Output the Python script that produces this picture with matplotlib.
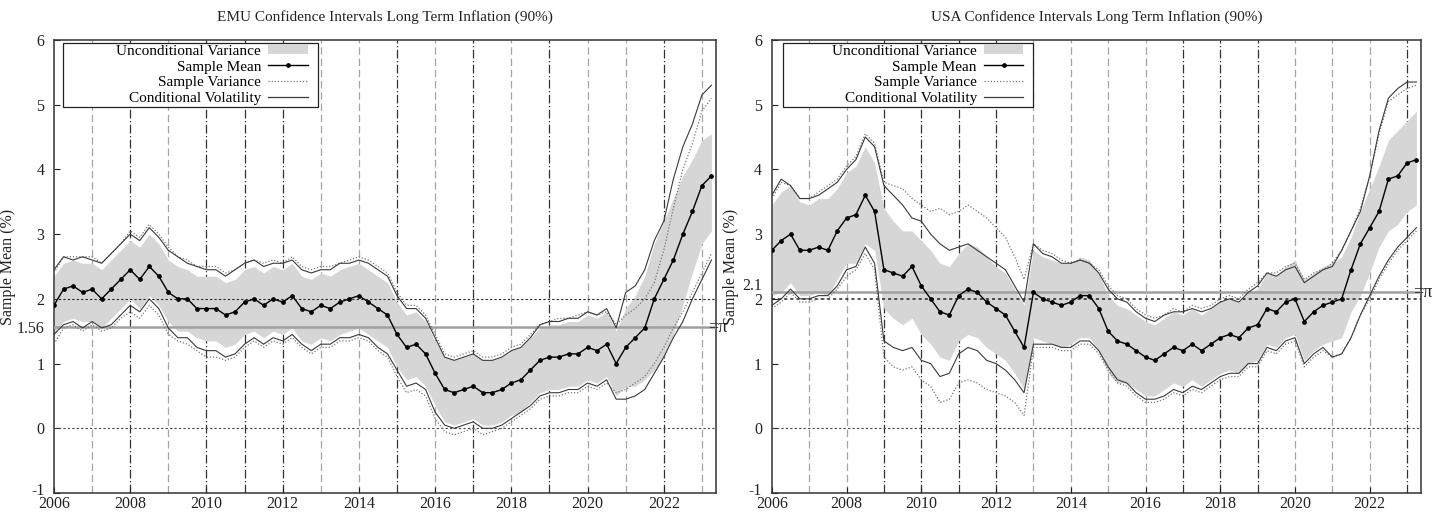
import numpy as np
import matplotlib
matplotlib.use("Agg")
import matplotlib.pyplot as plt
import matplotlib.transforms as mtransforms
from matplotlib.lines import Line2D
from matplotlib.patches import Patch, Rectangle

plt.rcParams['font.family'] = ['Liberation Serif', 'DejaVu Serif']
plt.rcParams['axes.unicode_minus'] = False

# quarterly grid 2006Q1 .. 2023Q2
t = 2006 + np.arange(70) / 4

# ---------------- EMU ----------------
emu_mean = [1.90, 2.15, 2.20, 2.10, 2.15, 2.00, 2.15, 2.30, 2.45, 2.30, 2.50, 2.35,
            2.10, 2.00, 2.00, 1.85, 1.85, 1.85, 1.75, 1.80, 1.95, 2.00, 1.90, 2.00,
            1.95, 2.05, 1.85, 1.80, 1.90, 1.85, 1.95, 2.00, 2.05, 1.95, 1.85, 1.75,
            1.45, 1.25, 1.30, 1.15, 0.85, 0.60, 0.55, 0.60, 0.65, 0.55, 0.55, 0.60,
            0.70, 0.75, 0.90, 1.05, 1.10, 1.10, 1.15, 1.15, 1.25, 1.20, 1.30, 1.00,
            1.25, 1.40, 1.55, 2.00, 2.30, 2.60, 3.00, 3.35, 3.75, 3.90]
emu_cv_up = [2.45, 2.65, 2.60, 2.65, 2.60, 2.55, 2.70, 2.85, 3.00, 2.90, 3.10, 2.95,
             2.75, 2.65, 2.55, 2.50, 2.45, 2.45, 2.35, 2.45, 2.55, 2.60, 2.50, 2.55,
             2.55, 2.60, 2.45, 2.40, 2.45, 2.45, 2.55, 2.55, 2.60, 2.55, 2.45, 2.35,
             2.05, 1.85, 1.85, 1.70, 1.40, 1.10, 1.05, 1.10, 1.15, 1.05, 1.05, 1.10,
             1.20, 1.25, 1.40, 1.60, 1.65, 1.65, 1.70, 1.70, 1.80, 1.75, 1.85, 1.55,
             2.10, 2.20, 2.45, 2.90, 3.20, 3.85, 4.35, 4.70, 5.15, 5.30]
emu_cv_lo = [1.45, 1.60, 1.65, 1.55, 1.65, 1.55, 1.60, 1.75, 1.90, 1.80, 2.00, 1.85,
             1.55, 1.40, 1.40, 1.25, 1.20, 1.20, 1.10, 1.15, 1.30, 1.40, 1.30, 1.40,
             1.35, 1.45, 1.30, 1.20, 1.30, 1.30, 1.40, 1.40, 1.45, 1.40, 1.25, 1.15,
             0.90, 0.65, 0.70, 0.60, 0.25, 0.05, 0.00, 0.05, 0.10, 0.00, 0.00, 0.05,
             0.15, 0.25, 0.35, 0.50, 0.55, 0.55, 0.60, 0.60, 0.70, 0.65, 0.75, 0.45,
             0.45, 0.50, 0.60, 0.85, 1.10, 1.40, 1.65, 2.00, 2.30, 2.60]
emu_sv_up = [2.40, 2.65, 2.65, 2.65, 2.65, 2.55, 2.70, 2.85, 3.05, 2.95, 3.15, 3.00,
             2.80, 2.65, 2.60, 2.50, 2.50, 2.50, 2.40, 2.45, 2.55, 2.60, 2.55, 2.60,
             2.55, 2.65, 2.50, 2.45, 2.50, 2.50, 2.55, 2.60, 2.65, 2.60, 2.50, 2.40,
             2.10, 1.90, 1.90, 1.75, 1.45, 1.15, 1.10, 1.15, 1.20, 1.10, 1.10, 1.15,
             1.25, 1.30, 1.45, 1.60, 1.65, 1.70, 1.70, 1.75, 1.80, 1.75, 1.80, 1.60,
             1.75, 1.85, 2.00, 2.25, 2.75, 3.40, 4.00, 4.40, 4.90, 5.10]
emu_sv_lo = [1.30, 1.55, 1.60, 1.50, 1.60, 1.50, 1.55, 1.70, 1.80, 1.70, 1.90, 1.75,
             1.45, 1.35, 1.30, 1.20, 1.10, 1.10, 1.05, 1.10, 1.25, 1.35, 1.25, 1.35,
             1.30, 1.40, 1.25, 1.15, 1.25, 1.25, 1.35, 1.35, 1.40, 1.35, 1.20, 1.10,
             0.80, 0.55, 0.60, 0.50, 0.15, -0.05, -0.10, -0.05, 0.00, -0.10, -0.05, 0.00,
             0.10, 0.20, 0.30, 0.45, 0.50, 0.50, 0.55, 0.55, 0.65, 0.60, 0.70, 0.55,
             0.60, 0.70, 0.80, 1.00, 1.25, 1.55, 1.80, 2.10, 2.40, 2.70]
emu_uv_up = [2.35, 2.55, 2.60, 2.55, 2.55, 2.45, 2.60, 2.75, 2.90, 2.80, 3.00, 2.85,
             2.60, 2.50, 2.45, 2.35, 2.35, 2.35, 2.25, 2.30, 2.45, 2.50, 2.40, 2.50,
             2.45, 2.55, 2.35, 2.30, 2.40, 2.35, 2.45, 2.50, 2.55, 2.45, 2.35, 2.25,
             1.95, 1.75, 1.80, 1.65, 1.35, 1.10, 1.05, 1.10, 1.15, 1.05, 1.05, 1.10,
             1.20, 1.25, 1.40, 1.55, 1.60, 1.60, 1.65, 1.65, 1.75, 1.70, 1.80, 1.50,
             1.85, 2.05, 2.35, 2.85, 3.20, 3.55, 3.90, 4.15, 4.45, 4.55]
emu_uv_lo = [1.45, 1.65, 1.70, 1.65, 1.65, 1.55, 1.70, 1.85, 2.00, 1.85, 2.05, 1.90,
             1.65, 1.50, 1.50, 1.40, 1.35, 1.35, 1.25, 1.30, 1.45, 1.50, 1.40, 1.50,
             1.45, 1.55, 1.35, 1.30, 1.40, 1.35, 1.45, 1.50, 1.55, 1.45, 1.35, 1.25,
             0.95, 0.75, 0.80, 0.65, 0.35, 0.10, 0.05, 0.10, 0.15, 0.05, 0.05, 0.10,
             0.20, 0.25, 0.40, 0.55, 0.60, 0.60, 0.65, 0.65, 0.75, 0.70, 0.80, 0.50,
             0.65, 0.65, 0.75, 0.90, 1.10, 1.45, 1.90, 2.40, 2.85, 3.05]
emu_pi = 1.56
emu_dark_years = [2008, 2010, 2011, 2012, 2015, 2017, 2019, 2022]

# ---------------- USA ----------------
usa_mean = [2.75, 2.90, 3.00, 2.75, 2.75, 2.80, 2.75, 3.05, 3.25, 3.30, 3.60, 3.35,
            2.45, 2.40, 2.35, 2.50, 2.20, 2.00, 1.80, 1.75, 2.05, 2.15, 2.10, 1.95,
            1.85, 1.75, 1.50, 1.25, 2.10, 2.00, 1.95, 1.90, 1.95, 2.05, 2.05, 1.85,
            1.50, 1.35, 1.30, 1.20, 1.10, 1.05, 1.15, 1.25, 1.20, 1.30, 1.20, 1.30,
            1.40, 1.45, 1.40, 1.55, 1.60, 1.85, 1.80, 1.95, 2.00, 1.65, 1.80, 1.90,
            1.95, 2.00, 2.45, 2.85, 3.10, 3.35, 3.85, 3.90, 4.10, 4.15]
usa_cv_up = [3.60, 3.85, 3.75, 3.55, 3.55, 3.60, 3.70, 3.80, 4.00, 4.15, 4.50, 4.35,
             3.75, 3.60, 3.45, 3.25, 3.20, 3.00, 2.85, 2.75, 2.80, 2.85, 2.75, 2.65,
             2.55, 2.45, 2.20, 1.95, 2.85, 2.70, 2.65, 2.55, 2.55, 2.60, 2.55, 2.40,
             2.15, 2.00, 1.95, 1.80, 1.70, 1.65, 1.75, 1.80, 1.80, 1.85, 1.80, 1.85,
             1.95, 2.00, 1.95, 2.10, 2.20, 2.40, 2.35, 2.45, 2.50, 2.25, 2.35, 2.45,
             2.50, 2.75, 3.05, 3.35, 3.90, 4.60, 5.10, 5.25, 5.35, 5.35]
usa_cv_lo = [1.90, 2.00, 2.15, 2.00, 2.00, 2.05, 2.05, 2.20, 2.45, 2.50, 2.80, 2.55,
             1.35, 1.25, 1.20, 1.25, 1.05, 1.00, 0.80, 0.85, 1.15, 1.25, 1.20, 1.05,
             1.00, 0.90, 0.75, 0.55, 1.30, 1.30, 1.30, 1.25, 1.25, 1.35, 1.35, 1.20,
             0.95, 0.75, 0.70, 0.55, 0.45, 0.45, 0.50, 0.60, 0.55, 0.65, 0.60, 0.70,
             0.80, 0.85, 0.85, 1.00, 1.00, 1.25, 1.20, 1.35, 1.40, 1.00, 1.15, 1.25,
             1.10, 1.15, 1.40, 1.75, 2.05, 2.35, 2.60, 2.80, 2.95, 3.10]
usa_sv_up = [3.55, 3.80, 3.75, 3.55, 3.55, 3.65, 3.75, 3.85, 4.05, 4.20, 4.55, 4.40,
             3.80, 3.75, 3.70, 3.55, 3.45, 3.35, 3.40, 3.30, 3.35, 3.45, 3.35, 3.25,
             3.10, 2.95, 2.65, 2.30, 2.85, 2.75, 2.70, 2.60, 2.55, 2.60, 2.55, 2.45,
             2.20, 2.05, 2.00, 1.85, 1.75, 1.70, 1.75, 1.85, 1.80, 1.90, 1.85, 1.90,
             2.00, 2.05, 2.00, 2.15, 2.25, 2.40, 2.40, 2.50, 2.55, 2.30, 2.40, 2.45,
             2.55, 2.75, 3.05, 3.40, 3.90, 4.55, 5.05, 5.15, 5.25, 5.30]
usa_sv_lo = [1.85, 1.95, 2.10, 1.95, 1.95, 2.00, 2.00, 2.15, 2.35, 2.45, 2.70, 2.45,
             1.10, 0.95, 0.90, 0.95, 0.75, 0.65, 0.40, 0.45, 0.70, 0.75, 0.70, 0.60,
             0.55, 0.50, 0.40, 0.20, 1.25, 1.25, 1.25, 1.20, 1.20, 1.30, 1.30, 1.15,
             0.90, 0.70, 0.65, 0.50, 0.40, 0.40, 0.45, 0.55, 0.50, 0.60, 0.55, 0.65,
             0.75, 0.80, 0.80, 0.95, 0.95, 1.20, 1.15, 1.30, 1.35, 0.95, 1.10, 1.20,
             1.10, 1.15, 1.40, 1.75, 2.00, 2.30, 2.55, 2.75, 2.90, 3.05]
usa_uv_up = [3.45, 3.65, 3.75, 3.50, 3.45, 3.55, 3.55, 3.70, 3.95, 4.05, 4.35, 4.10,
             3.40, 3.20, 3.05, 3.05, 2.90, 2.75, 2.55, 2.50, 2.70, 2.85, 2.80, 2.65,
             2.50, 2.40, 2.15, 1.90, 2.75, 2.65, 2.60, 2.55, 2.55, 2.65, 2.60, 2.40,
             2.05, 1.90, 1.85, 1.75, 1.65, 1.60, 1.70, 1.80, 1.75, 1.85, 1.75, 1.85,
             1.95, 2.00, 1.95, 2.10, 2.15, 2.40, 2.35, 2.50, 2.60, 2.30, 2.40, 2.50,
             2.55, 2.65, 2.95, 3.35, 3.70, 4.05, 4.45, 4.60, 4.75, 4.90]
usa_uv_lo = [2.05, 2.10, 2.25, 2.05, 2.05, 2.10, 2.05, 2.30, 2.55, 2.55, 2.85, 2.75,
             1.85, 1.70, 1.60, 1.70, 1.45, 1.30, 1.10, 1.05, 1.35, 1.45, 1.40, 1.25,
             1.15, 1.05, 0.85, 0.60, 1.40, 1.35, 1.30, 1.25, 1.30, 1.40, 1.40, 1.20,
             0.85, 0.70, 0.70, 0.60, 0.50, 0.50, 0.60, 0.70, 0.65, 0.75, 0.65, 0.75,
             0.85, 0.90, 0.85, 1.00, 1.05, 1.30, 1.25, 1.40, 1.45, 1.05, 1.20, 1.30,
             1.35, 1.40, 1.80, 2.05, 2.40, 2.80, 3.05, 3.15, 3.35, 3.45]
usa_pi = 2.1
usa_dark_years = [2009, 2010, 2011, 2012, 2017, 2018, 2019, 2023]

vline_years = list(range(2007, 2024))
xtick_years = list(range(2006, 2023, 2))

BAND = '#d6d6d6'
LINE = '#3a3a3a'


def nudge(label, fig, dx_pt, dy_pt):
    label.set_transform(label.get_transform() + mtransforms.ScaledTranslation(
        dx_pt / 72, dy_pt / 72, fig.dpi_scale_trans))


def draw_panel(ax, title, mean, uv_up, uv_lo, sv_up, sv_lo, cv_up, cv_lo,
               pi_val, dark_years, pi_tick, box_x, box_w, ylab_x):
    for yr in vline_years:
        if yr in dark_years:
            ax.axvline(yr, color='#333333', lw=0.9, dashes=(7, 2, 1, 2), zorder=1)
        else:
            ax.axvline(yr, color='#a5a5a5', lw=0.9, dashes=(6, 3), zorder=1)

    ax.fill_between(t, uv_lo, uv_up, color=BAND, lw=0, zorder=2)
    ax.axhline(0, color='#444444', lw=0.8, ls=(0, (2, 2)), zorder=3)
    ax.axhline(2, color='#222222', lw=1.1 if pi_val > 2 else 0.8,
               ls=(0, (2, 2)), zorder=3)
    ax.axhline(pi_val, color='#a0a0a0', lw=1.8, zorder=3)

    ax.plot(t, sv_up, color='#777777', lw=0.9, ls=(0, (1, 1.5)), zorder=4)
    ax.plot(t, sv_lo, color='#777777', lw=0.9, ls=(0, (1, 1.5)), zorder=4)
    ax.plot(t, cv_up, color=LINE, lw=0.8, zorder=4)
    ax.plot(t, cv_lo, color=LINE, lw=0.8, zorder=4)
    ax.plot(t, mean, color='black', lw=1.0, marker='o', ms=2.4, zorder=5)

    ax.set_xlim(2006, 2023.38)
    ax.set_ylim(-1, 6)
    ax.set_xticks(xtick_years)
    ax.set_xticklabels([str(y) for y in xtick_years])
    yt = sorted([-1, 0, 1, 2, 3, 4, 5, 6] + [pi_val])
    ax.set_yticks(yt)
    ax.set_yticklabels([pi_tick if v == pi_val else str(v) for v in yt])
    ax.tick_params(direction='in', length=4, width=0.8, labelsize=11.5,
                   colors='#222222')
    ax.tick_params(axis='x', pad=2)
    ax.tick_params(axis='y', pad=7)
    ylabels = ax.get_yticklabels()
    # keep the extra tick label off "2" and "-1" off the year labels
    if pi_val > 2:
        nudge(ylabels[yt.index(pi_val)], ax.figure, 0, 6)
    nudge(ylabels[0], ax.figure, 0, 3)
    for s in ax.spines.values():
        s.set_linewidth(1.1)
        s.set_color('#333333')

    ax.set_title(title, fontsize=11, pad=14, color='#222222')
    ax.set_ylabel('Sample Mean (%)', fontsize=11.5, color='#222222')
    ax.yaxis.set_label_coords(ylab_x, 0.5)

    ax.annotate('=π', xy=(1.0, pi_val), xycoords=('axes fraction', 'data'),
                xytext=(1, 0), textcoords='offset points', ha='center',
                va='center', fontsize=13, color='#222222', annotation_clip=False)

    handles = [Patch(facecolor=BAND, edgecolor='none'),
               Line2D([], [], color='black', lw=1.0, marker='o', ms=2.4),
               Line2D([], [], color='#777777', lw=0.9, ls=(0, (1, 1.5))),
               Line2D([], [], color=LINE, lw=0.9)]
    labels = ['Unconditional Variance', 'Sample Mean', 'Sample Variance',
              'Conditional Volatility']
    leg = ax.legend(handles, labels, loc='upper right',
                    bbox_to_anchor=(box_x + box_w - 0.012, 0.995),
                    borderaxespad=0, markerfirst=False, fontsize=11,
                    frameon=False, handlelength=2.6, handleheight=0.6,
                    labelspacing=0.17, borderpad=0.15, handletextpad=0.45)
    leg.set_zorder(10)
    ax.add_patch(Rectangle((box_x, 0.852), box_w, 0.141, transform=ax.transAxes,
                           facecolor='white', edgecolor='#222222', lw=0.9,
                           zorder=9, clip_on=False))


fig = plt.figure(figsize=(14.4, 5.12), dpi=100)
ax1 = fig.add_axes([0.0375, 0.037, 0.460, 0.885])
ax2 = fig.add_axes([0.536, 0.037, 0.451, 0.885])

draw_panel(ax1, 'EMU Confidence Intervals Long Term Inflation (90%)',
           emu_mean, emu_uv_up, emu_uv_lo, emu_sv_up, emu_sv_lo,
           emu_cv_up, emu_cv_lo, emu_pi, emu_dark_years, '1.56',
           0.0136, 0.385, -0.058)
draw_panel(ax2, 'USA Confidence Intervals Long Term Inflation (90%)',
           usa_mean, usa_uv_up, usa_uv_lo, usa_sv_up, usa_sv_lo,
           usa_cv_up, usa_cv_lo, usa_pi, usa_dark_years, '2.1',
           0.0169, 0.386, -0.05)

fig.savefig('out.png', dpi=100)
